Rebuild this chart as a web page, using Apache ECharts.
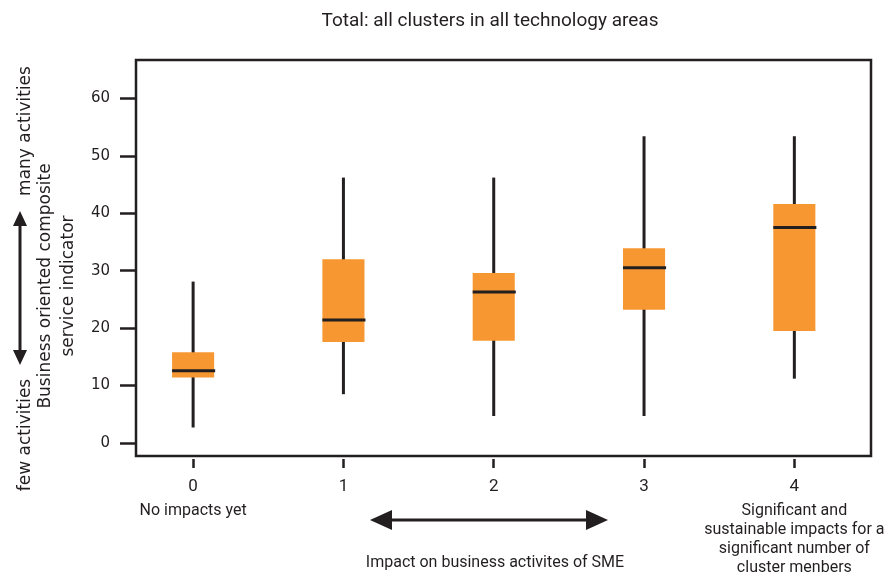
<!DOCTYPE html>
<html>
<head>
<meta charset="utf-8">
<title>Business oriented composite service indicator</title>
<script src="https://cdn.jsdelivr.net/npm/echarts@6/dist/echarts.min.js"></script>
<style>
    html, body { margin: 0; padding: 0; background: #fff; }
    #chart { width: 888px; height: 579px; }
</style>
</head>
<body>
<div id="chart"></div>
<script>
// impact level categories on the x axis
var categories = ["0", "1", "2", "3", "4"];
var categoryNotes = [
    "No impacts yet",
    "",
    "",
    "",
    "Significant and\nsustainable impacts for a\nsignificant number of\ncluster menbers"
];

// box plot values
var whiskerLow = [2.7, 8.5, 4.7, 4.7, 11.2];
var quartile1 = [11.4, 17.6, 17.8, 23.2, 19.5];
var medians = [12.6, 21.4, 26.3, 30.5, 37.5];
var quartile3 = [15.8, 32.0, 29.6, 33.9, 41.6];
var whiskerHigh = [28.1, 46.2, 46.2, 53.4, 53.4];

var xTicks = [0, 1, 2, 3, 4];
var yTicks = [0, 10, 20, 30, 40, 50, 60];

var ink = "#231f20";
var orange = "#f79731";
var narrow = "Roboto";

var boxes = categories.map(function (c, i) {
    return [i, whiskerLow[i], quartile1[i], medians[i], quartile3[i], whiskerHigh[i]];
});

function renderBox(params, api) {
    var x = api.value(0);
    var lo = api.coord([x, api.value(1)]);
    var q1 = api.coord([x, api.value(2)]);
    var md = api.coord([x, api.value(3)]);
    var q3 = api.coord([x, api.value(4)]);
    var hi = api.coord([x, api.value(5)]);
    var half = api.size([1, 0])[0] * 0.14;
    return {
        type: "group",
        children: [
            {
                type: "line",
                shape: { x1: lo[0], y1: lo[1], x2: hi[0], y2: hi[1] },
                style: { stroke: ink, lineWidth: 3 }
            },
            {
                type: "rect",
                shape: { x: q3[0] - half, y: q3[1], width: half * 2, height: q1[1] - q3[1] },
                style: { fill: orange }
            },
            {
                type: "line",
                shape: { x1: md[0] - half, y1: md[1], x2: md[0] + half + 1, y2: md[1] },
                style: { stroke: ink, lineWidth: 3 }
            }
        ]
    };
}

var chart = echarts.init(document.getElementById("chart"));

var option = {
    animation: false,
    title: {
        text: "Total: all clusters in all technology areas",
        left: 485,
        top: 7,
        textAlign: "center",
        textStyle: {
            fontFamily: narrow,
            fontSize: 19,
            fontWeight: "normal",
            color: ink
        }
    },
    grid: {
        left: 136,
        right: 17,
        top: 60,
        bottom: 123,
        show: true,
        borderColor: ink,
        borderWidth: 2.5
    },
    xAxis: [
        {
            type: "value",
            min: -0.38,
            max: 4.51,
            offset: 3,
            axisLine: { show: false, onZero: false },
            splitLine: { show: false },
            axisTick: {
                show: true,
                length: 9,
                customValues: xTicks,
                lineStyle: { color: ink, width: 2.5 }
            },
            axisLabel: {
                margin: 19,
                customValues: xTicks,
                formatter: function (v) {
                    return categories[Math.round(v)];
                },
                fontFamily: narrow,
                fontSize: 17,
                color: ink
            }
        },
        {
            // second bottom axis carrying only the descriptions of the extremes
            type: "value",
            min: -0.38,
            max: 4.51,
            position: "bottom",
            offset: 36,
            axisLine: { show: false, onZero: false },
            splitLine: { show: false },
            axisTick: { show: false },
            axisLabel: {
                margin: 9,
                customValues: [0, 4],
                formatter: function (v) {
                    return categoryNotes[Math.round(v)];
                },
                fontFamily: narrow,
                fontSize: 16,
                lineHeight: 19,
                color: ink
            }
        }
    ],
    yAxis: {
        type: "value",
        min: -2.26,
        max: 66.67,
        axisLine: { show: false, onZero: false },
        splitLine: { show: false },
        axisTick: {
            show: true,
            length: 16,
            customValues: yTicks,
            lineStyle: { color: ink, width: 2.5 }
        },
        axisLabel: {
            margin: 26,
            customValues: yTicks,
            fontFamily: "DejaVu Sans",
            fontSize: 15,
            color: ink
        }
    },
    graphic: [
        // y axis title
        {
            type: "text", x: 57, y: 286, rotation: Math.PI / 2,
            style: {
                text: "Business oriented composite\nservice indicator",
                font: "17px 'DejaVu Sans'", lineHeight: 23, fill: ink,
                align: "center", verticalAlign: "middle"
            }
        },
        // vertical double arrow on the left
        { type: "line", shape: { x1: 20, y1: 224, x2: 20, y2: 352 }, style: { stroke: ink, lineWidth: 3 } },
        { type: "polygon", shape: { points: [[20, 211], [13, 226], [27, 226]] }, style: { fill: ink } },
        { type: "polygon", shape: { points: [[20, 365], [13, 350], [27, 350]] }, style: { fill: ink } },
        {
            type: "text", x: 26, y: 131, rotation: Math.PI / 2,
            style: { text: "many activities", font: "17px 'DejaVu Sans'", fill: ink, align: "center", verticalAlign: "middle" }
        },
        {
            type: "text", x: 26, y: 435, rotation: Math.PI / 2,
            style: { text: "few activities", font: "17px 'DejaVu Sans'", fill: ink, align: "center", verticalAlign: "middle" }
        },
        // horizontal double arrow under the x axis
        { type: "line", shape: { x1: 390, y1: 520, x2: 588, y2: 520 }, style: { stroke: ink, lineWidth: 3 } },
        { type: "polygon", shape: { points: [[370, 520], [392, 510], [392, 530]] }, style: { fill: ink } },
        { type: "polygon", shape: { points: [[608, 520], [586, 510], [586, 530]] }, style: { fill: ink } },
        {
            type: "text", x: 495, y: 563,
            style: { text: "Impact on business activites of SME", font: "16px " + narrow, fill: ink, align: "center", verticalAlign: "middle" }
        }
    ],
    series: [
        {
            type: "custom",
            xAxisIndex: 0,
            renderItem: renderBox,
            encode: { x: 0, y: [1, 2, 3, 4, 5] },
            data: boxes
        }
    ]
};

chart.setOption(option);
</script>
</body>
</html>
